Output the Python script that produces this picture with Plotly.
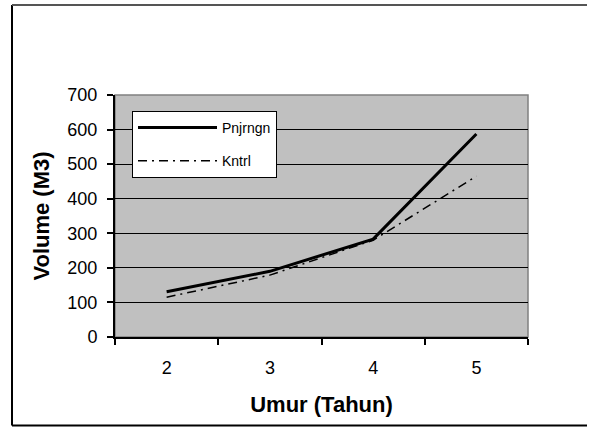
import plotly.graph_objects as go

umur = ["2", "3", "4", "5"]
pnjrngn = [131, 190, 283, 587]
kntrl = [115, 179, 280, 465]
y_ticks = [0, 100, 200, 300, 400, 500, 600, 700]

W, H = 590, 427
L, R, T, B = 115, 62, 95, 90
pw, ph = W - L - R, H - T - B

def px_x(x):
    return (x - L) / pw

def px_y(y):
    return (H - B - y) / ph

fig = go.Figure()
fig.add_trace(go.Scatter(x=umur, y=pnjrngn, mode="lines", name="Pnjrngn",
                         line=dict(color="black", width=3), legendgroup="a"))
fig.add_trace(go.Scatter(x=umur, y=kntrl, mode="lines", name="Kntrl",
                         line=dict(color="black", width=1.5, dash="9px,5px,2px,5px"),
                         legendgroup="b"))

font = "Liberation Sans, Arial, sans-serif"
bx0, bx1, by0, by1 = px_x(12), px_x(587), px_y(425.5), px_y(5)
fig.update_layout(
    width=W, height=H,
    margin=dict(l=L, r=R, t=T, b=B),
    paper_bgcolor="white",
    plot_bgcolor="#C0C0C0",
    font=dict(family=font, color="black"),
    showlegend=True,
    legend=dict(x=px_x(132), y=px_y(111), xanchor="left", yanchor="top",
                bgcolor="white", bordercolor="black", borderwidth=1,
                font=dict(size=14), itemwidth=79, traceorder="grouped",
                tracegroupgap=12),
    xaxis=dict(type="category", tickson="boundaries", ticks="outside", ticklen=6,
               tickcolor="black", tickwidth=1.5, showline=True, linecolor="black",
               linewidth=2, showgrid=False, tickfont=dict(size=18),
               range=[-0.5, 3.5], zeroline=False, ticklabelstandoff=13,
               title=dict(text="<b>Umur (Tahun)</b>", font=dict(size=22), standoff=20)),
    yaxis=dict(range=[0, 700], tickvals=y_ticks, ticks="outside", ticklen=6,
               tickcolor="black", tickwidth=1.5, showline=True, linecolor="black",
               linewidth=2, showgrid=True, gridcolor="black", gridwidth=1,
               zeroline=False, tickfont=dict(size=18), ticklabelstandoff=6,
               title=dict(text="<b>Volume (M3)</b>", font=dict(size=22), standoff=12)),
    shapes=[
        dict(type="rect", xref="paper", yref="paper", x0=0, x1=1, y0=0, y1=1,
             line=dict(color="#808080", width=1.5), layer="below"),
        dict(type="line", xref="paper", yref="paper", x0=bx0, x1=bx0, y0=by0, y1=by1,
             line=dict(color="black", width=2), layer="above"),
        dict(type="line", xref="paper", yref="paper", x0=bx0, x1=bx1, y0=by0, y1=by0,
             line=dict(color="black", width=2), layer="above"),
        dict(type="line", xref="paper", yref="paper", x0=bx0, x1=bx1, y0=by1, y1=by1,
             line=dict(color="#555555", width=2), layer="above"),
    ],
)

fig.write_html("out.html")
